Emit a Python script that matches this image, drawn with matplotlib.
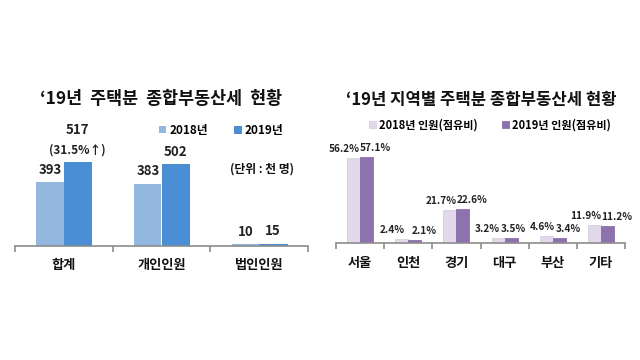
import numpy as np
import matplotlib
matplotlib.use('Agg')
import matplotlib.pyplot as plt

plt.rcParams['font.family'] = ['Noto Sans CJK KR', 'DejaVu Sans']
plt.rcParams['font.weight'] = 'bold'

# 왼쪽: 주택분 종부세 인원 (단위: 천 명)
groups = ['합계', '개인인원', '법인인원']
people_2018 = [393, 383, 10]
people_2019 = [517, 502, 15]

# 오른쪽: 지역별 점유비 (%)
regions = ['서울', '인천', '경기', '대구', '부산', '기타']
share_2018 = [56.2, 2.4, 21.7, 3.2, 4.6, 11.9]
share_2019 = [57.1, 2.1, 22.6, 3.5, 3.4, 11.2]

# 라벨 가로 위치 보정 (pt)
dx_2018 = {3: -7.5, 4: -3}
dx_2019 = {3: 2}

fig = plt.figure(figsize=(6.4, 3.6), dpi=100)
fig.patch.set_facecolor('white')


def style_axis(ax, n):
    for s in ['left', 'top', 'right']:
        ax.spines[s].set_visible(False)
    ax.spines['bottom'].set_color('#8c8c8c')
    ax.spines['bottom'].set_linewidth(1.2)
    ax.set_yticks([])
    ax.set_xlim(-0.5, n - 0.5)
    ax.set_xticks(np.arange(-0.5, n, 1.0))
    ax.set_xticklabels([])
    ax.tick_params(axis='x', direction='out', length=4, color='#8c8c8c', width=1.2)


# ---- left chart
ax1 = fig.add_axes([15 / 640, 114 / 360, 293 / 640, 97.5 / 360])
x = np.arange(len(groups))
w = 0.28
ax1.bar(x - w / 2, people_2018, w, color='#93b7df', label='2018년')
ax1.bar(x + w / 2, people_2019, w, color='#4a8fd6', edgecolor='#3f7fc4', linewidth=0.6, label='2019년')
ax1.set_ylim(0, 600)
style_axis(ax1, len(groups))

for i, v in enumerate(people_2018):
    ax1.annotate(str(v), (x[i] - w / 2, v), xytext=(0, 4), textcoords='offset points',
                 ha='center', va='bottom', fontsize=9.5, fontweight='bold', color='#222222')
for i, v in enumerate(people_2019):
    if i == 0:
        ax1.annotate('(31.5%↑)', (x[i] + w / 2, v), xytext=(0, 4), textcoords='offset points',
                     ha='center', va='bottom', fontsize=8.5, fontweight='bold', color='#222222')
        ax1.annotate(str(v), (x[i] + w / 2, v), xytext=(0, 18), textcoords='offset points',
                     ha='center', va='bottom', fontsize=9.5, fontweight='bold', color='#222222')
    else:
        ax1.annotate(str(v), (x[i] + w / 2, v), xytext=(0, 4), textcoords='offset points',
                     ha='center', va='bottom', fontsize=9.5, fontweight='bold', color='#222222')

for i, g in enumerate(groups):
    ax1.text(x[i], -0.2, g, transform=ax1.get_xaxis_transform(), ha='center', va='center',
             fontsize=9.5, fontweight='bold', color='#111111')

ax1.legend(ncol=2, frameon=False, loc='center', bbox_to_anchor=(221 / 640, 1 - 130 / 360),
           bbox_transform=fig.transFigure, fontsize=8.5, handlelength=0.6, handleheight=0.6,
           handletextpad=0.3, columnspacing=2.2, borderpad=0)
fig.text(262 / 640, 1 - 169 / 360, '(단위 : 천 명)', ha='center', va='center',
         fontsize=8.5, fontweight='bold', color='#111111')
fig.text(161 / 640, 1 - 99 / 360, '\u201819년  주택분  종합부동산세  현황', ha='center', va='center',
         fontsize=12.5, fontweight='bold', color='#111111')

# ---- right chart
ax2 = fig.add_axes([336 / 640, 117 / 360, 289 / 640, 98 / 360])
x2 = np.arange(len(regions))
w2 = 0.27
ax2.bar(x2 - w2 / 2, share_2018, w2, color='#e2d8ec', edgecolor='#d4c8e0', linewidth=0.5,
        label='2018년 인원(점유비)')
ax2.bar(x2 + w2 / 2, share_2019, w2, color='#8e72ae', edgecolor='#7d62a0', linewidth=0.5,
        label='2019년 인원(점유비)')
ax2.set_ylim(0, 65)
style_axis(ax2, len(regions))

for i in range(len(regions)):
    ax2.annotate(f'{share_2018[i]:.1f}%', (x2[i] - w2 / 2, share_2018[i]),
                 xytext=(dx_2018.get(i, -6.5), 3), textcoords='offset points',
                 ha='center', va='bottom', fontsize=7.3, fontweight='bold', color='#222222')
    ax2.annotate(f'{share_2019[i]:.1f}%', (x2[i] + w2 / 2, share_2019[i]),
                 xytext=(dx_2019.get(i, 6.5), 3), textcoords='offset points',
                 ha='center', va='bottom', fontsize=7.3, fontweight='bold', color='#222222')

for i, r in enumerate(regions):
    ax2.text(x2[i], -0.2, r, transform=ax2.get_xaxis_transform(), ha='center', va='center',
             fontsize=9.5, fontweight='bold', color='#111111')

ax2.legend(ncol=2, frameon=False, loc='center', bbox_to_anchor=(490 / 640, 1 - 125 / 360),
           bbox_transform=fig.transFigure, fontsize=8, handlelength=0.6, handleheight=0.6,
           handletextpad=0.3, columnspacing=2.2, borderpad=0)
fig.text(481 / 640, 1 - 100 / 360, '\u201819년 지역별 주택분 종합부동산세 현황', ha='center', va='center',
         fontsize=12, fontweight='bold', color='#111111')

fig.savefig('out.png', dpi=100, facecolor='white')
